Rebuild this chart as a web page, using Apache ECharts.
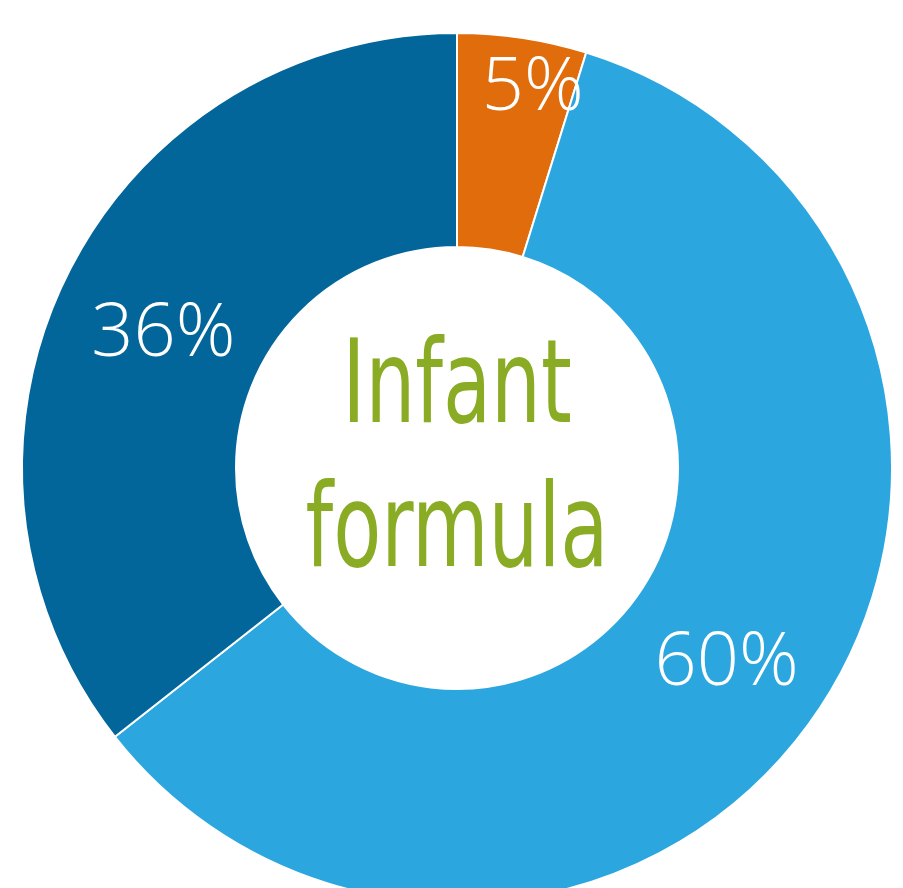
<!DOCTYPE html>
<html>
<head>
<meta charset="utf-8">
<style>
  html, body { margin: 0; padding: 0; background: #fff; }
  #chart { width: 903px; height: 888px; }
</style>
<script src="https://cdn.jsdelivr.net/npm/echarts@6/dist/echarts.min.js"></script>
</head>
<body>
<div id="chart"></div>
<script>
// shares of each slice, and the printed labels
const categories = ['Orange', 'Light blue', 'Dark blue'];
const shares = [4.8, 59.6, 35.6];
const labels = ['5%', '60%', '36%'];
const colors = ['#e06c0c', '#2ca6df', '#03669a'];
const centerText = 'Infant\nformula';

const chart = echarts.init(document.getElementById('chart'), null, { renderer: 'canvas' });

// small nudges so the labels sit where the original put them
const labelOffsets = [[26, -52], [-3, 8], [4, 12]];

const data = categories.map((name, i) => ({
    name,
    value: shares[i],
    itemStyle: { color: colors[i] },
    label: { offset: labelOffsets[i] }
}));

chart.setOption({
    backgroundColor: '#fff',
    animation: false,
    graphic: [{
        type: 'text',
        x: 457,
        y: 464,
        scaleX: 0.76,
        style: {
            text: centerText,
            fill: '#8aac25',
            font: '115px "Liberation Sans Narrow", "DejaVu Sans Condensed", sans-serif',
            lineHeight: 144,
            align: 'center',
            verticalAlign: 'middle'
        }
    }],
    series: [{
        type: 'pie',
        center: [457, 468],
        radius: [221, 435],
        startAngle: 90,
        clockwise: true,
        avoidLabelOverlap: false,
        itemStyle: { borderColor: '#fff', borderWidth: 2 },
        label: {
            show: true,
            position: 'inside',
            color: '#fff',
            fontFamily: '"Open Sans", sans-serif',
            fontWeight: 300,
            fontSize: 74,
            formatter: p => labels[p.dataIndex]
        },
        labelLine: { show: false },
        emphasis: { disabled: true },
        data
    }]
});
</script>
</body>
</html>
